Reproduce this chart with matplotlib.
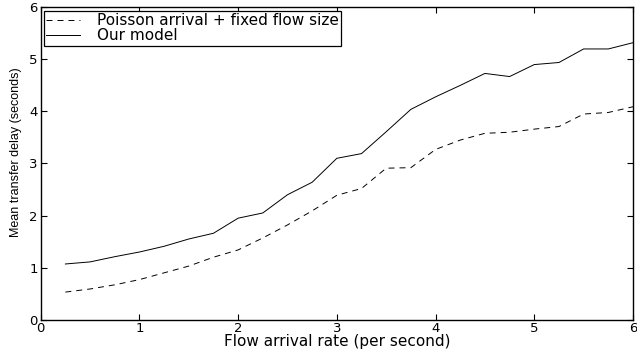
import matplotlib
matplotlib.use('Agg')
import matplotlib.pyplot as plt

plt.rcParams['font.family'] = ['DejaVu Sans']
plt.rcParams['lines.scale_dashes'] = False

# Flow arrival rate (per second)
rate = [0.25, 0.5, 0.75, 1.0, 1.25, 1.5, 1.75, 2.0, 2.25, 2.5, 2.75, 3.0,
        3.25, 3.5, 3.75, 4.0, 4.25, 4.5, 4.75, 5.0, 5.25, 5.5, 5.75, 6.0]

# Mean transfer delay (seconds)
poisson_delay = [0.53, 0.59, 0.67, 0.77, 0.90, 1.03, 1.20, 1.34, 1.57, 1.82, 2.09, 2.39,
                 2.52, 2.91, 2.92, 3.27, 3.45, 3.58, 3.60, 3.66, 3.71, 3.95, 3.98, 4.09]
model_delay = [1.07, 1.11, 1.21, 1.30, 1.41, 1.55, 1.66, 1.95, 2.05, 2.40, 2.64, 3.10,
               3.19, 3.61, 4.04, 4.28, 4.50, 4.73, 4.67, 4.90, 4.94, 5.20, 5.20, 5.32]

fig = plt.figure(figsize=(6.37, 3.58), dpi=100)
ax = fig.add_axes([0.0639, 0.107, 0.9298, 0.8726])

ax.plot(rate, poisson_delay, color='black', linewidth=0.7, linestyle='--',
        dashes=(4.3, 3.6), label='Poisson arrival + fixed flow size')
ax.plot(rate, model_delay, color='black', linewidth=0.7, label='Our model')

ax.set_xlim(0, 6)
ax.set_ylim(0, 6)
ax.set_xticks(range(7))
ax.set_yticks(range(7))
ax.tick_params(direction='in', top=True, right=True, length=4, width=0.8,
               labelsize=9.5, pad=2)
for s in ax.spines.values():
    s.set_linewidth(1.0)

ax.set_xlabel('Flow arrival rate (per second)', fontsize=11, labelpad=-1)
ax.set_ylabel('Mean transfer delay (seconds)', fontsize=9, family='Liberation Sans')
ax.yaxis.set_label_coords(-0.031, 0.537)

leg = ax.legend(loc='upper left', bbox_to_anchor=(0.0056, 0.988), borderaxespad=0,
                fontsize=11, fancybox=False, framealpha=1, edgecolor='black',
                handlelength=2.2, handletextpad=1.1, labelspacing=0.0,
                borderpad=0.15)
leg.get_frame().set_linewidth(0.9)

fig.savefig('out.png', dpi=100)
